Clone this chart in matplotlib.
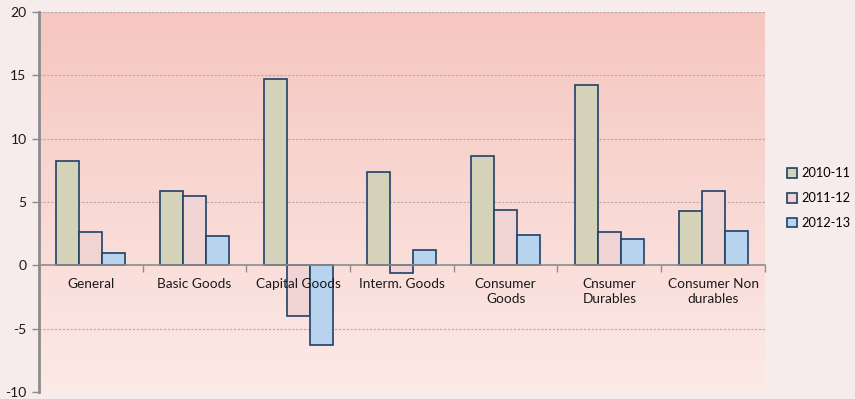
import numpy as np
import matplotlib
matplotlib.use("Agg")
import matplotlib.pyplot as plt
from matplotlib.colors import LinearSegmentedColormap

# growth rates (%) by use-based category
categories = ["General", "Basic Goods", "Capital Goods", "Interm. Goods",
              "Consumer\nGoods", "Cnsumer\nDurables", "Consumer Non\ndurables"]
years = ["2010-11", "2011-12", "2012-13"]
growth_2010_11 = [8.2, 5.9, 14.7, 7.4, 8.6, 14.2, 4.3]
growth_2011_12 = [2.6, 5.5, -4.0, -0.6, 4.4, 2.6, 5.9]
growth_2012_13 = [1.0, 2.3, -6.3, 1.2, 2.4, 2.1, 2.7]
yticks = [-10, -5, 0, 5, 10, 15, 20]

colors = ["#D5D2BA", "#F0D3D3", "#B8D3EE"]
edge = "#1F4068"

plt.rcParams['font.family'] = ['Lato', 'DejaVu Sans']

fig = plt.figure(figsize=(8.55, 3.99), dpi=100, facecolor="#F6ECEB")
ax = fig.add_axes([0.0456, 0.0175, 0.849, 0.9525])
ax.set_facecolor("none")

n = len(categories)
ax.set_xlim(0, n)
ax.set_ylim(-10, 20)

# pink vertical gradient behind the bars
grad = LinearSegmentedColormap.from_list("bg", ["#FCEAE7", "#F6C6C0"])
ax.imshow(np.linspace(0, 1, 256).reshape(-1, 1), cmap=grad, aspect="auto",
          extent=[0, n, -10, 20], origin="lower", zorder=0)

x = np.arange(n) + 0.5
w = 0.222
for i, (vals, c) in enumerate(zip([growth_2010_11, growth_2011_12, growth_2012_13], colors)):
    ax.bar(x + (i - 1) * w, vals, width=w, color=c, edgecolor=edge,
           linewidth=1.2, label=years[i], zorder=3)

# dashed horizontal gridlines
for t in yticks:
    if t != 0:
        ax.axhline(t, color="#B3A8A8", linestyle=(0, (2, 1.5)), linewidth=0.8, zorder=1)

# category axis sits on the zero line, labels drawn over the bars
for s in ["top", "right"]:
    ax.spines[s].set_visible(False)
ax.spines["bottom"].set_position(("data", 0))
ax.spines["bottom"].set_color("#8C8C8C")
ax.spines["bottom"].set_linewidth(1.2)
ax.spines["bottom"].set_zorder(4)
ax.spines["left"].set_color("#8C8C8C")
ax.spines["left"].set_linewidth(2)
ax.xaxis.set_zorder(5)

ax.set_xticks(x)
ax.set_xticklabels(categories, fontsize=9.8, color="#1A1A1A", linespacing=1.3)
ax.set_xticks(np.arange(1, n + 1), minor=True)
ax.tick_params(axis="x", which="major", length=0, pad=9)
ax.tick_params(axis="x", which="minor", length=5, width=1, color="#8C8C8C", direction="out")

ax.set_yticks(yticks)
ax.set_yticklabels([str(t) for t in yticks], fontsize=10, color="#1A1A1A")
ax.tick_params(axis="y", length=5, width=1, color="#8C8C8C", pad=4)

leg = ax.legend(loc="center left", bbox_to_anchor=(1.03, 0.51), frameon=False,
                fontsize=9.2, handlelength=0.8, handleheight=0.8, handletextpad=0.35,
                labelspacing=1.0, borderaxespad=0, borderpad=0)

fig.savefig("out.png", dpi=100, facecolor=fig.get_facecolor())
